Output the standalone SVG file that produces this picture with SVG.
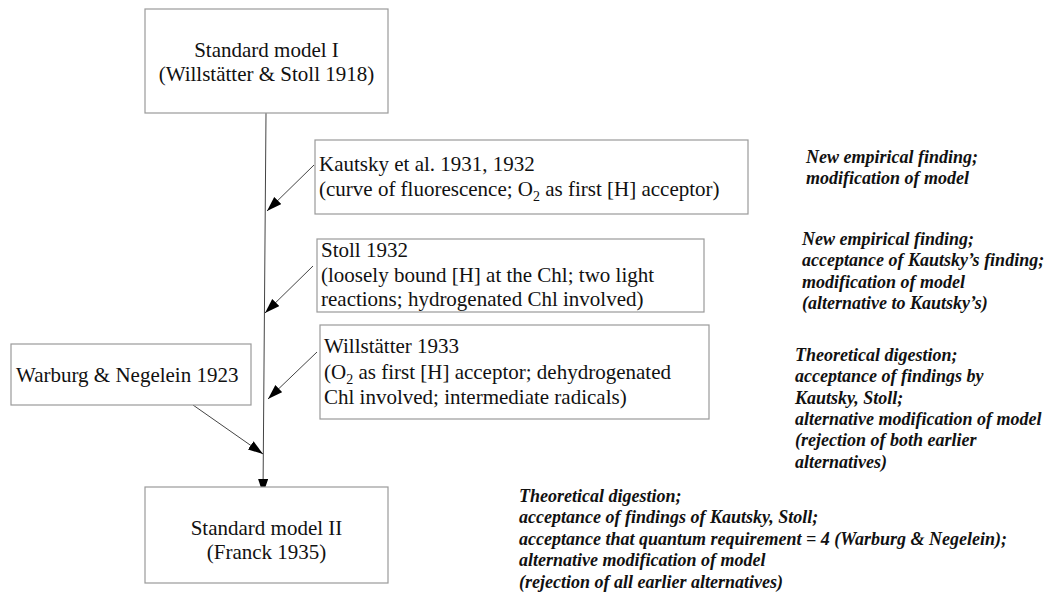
<svg xmlns="http://www.w3.org/2000/svg" width="1045" height="595" viewBox="0 0 1045 595">
  <defs>
    <style>
      .box { fill: #ffffff; stroke: #9a9a9a; stroke-width: 1.2; }
      .label { font-family: "Liberation Serif", Tinos, "Times New Roman", Times, "DejaVu Serif", serif; font-size: 21px; fill: #111111; }
      .mid { text-anchor: middle; }
      .note { font-family: "Liberation Serif", Tinos, "Times New Roman", Times, "DejaVu Serif", serif; font-size: 18px; font-weight: bold; font-style: italic; fill: #111111; }
      .edge { stroke: #444444; stroke-width: 1; fill: none; marker-end: url(#arrow); }
      .sub { font-size: 14px; }
    </style>
    <marker id="arrow" markerUnits="userSpaceOnUse" markerWidth="16" markerHeight="11" refX="15" refY="5" orient="auto">
      <path d="M0,0 L15,5 L0,10 Z" fill="#000000"/>
    </marker>
  </defs>

  <!-- connectors, drawn first so the node boxes sit on top -->
  <g id="connectors">
    <line class="edge" x1="266" y1="113" x2="263" y2="494"/>
    <line class="edge" x1="314" y1="165" x2="267" y2="211"/>
    <line class="edge" x1="313" y1="266" x2="265" y2="313"/>
    <line class="edge" x1="317" y1="352" x2="268" y2="399"/>
    <line class="edge" x1="193" y1="405" x2="263" y2="454"/>
  </g>

  <g id="model-1">
    <rect class="box" x="145" y="9" width="243" height="104"/>
    <text class="label mid" x="266.5" y="57">Standard model I</text>
    <text class="label mid" x="266.5" y="81">(Willstätter &amp; Stoll 1918)</text>
  </g>

  <g id="kautsky">
    <rect class="box" x="315" y="140" width="433" height="74"/>
    <text class="label" x="319" y="171">Kautsky et al. 1931, 1932</text>
    <text class="label" x="319" y="196">(curve of fluorescence; O<tspan class="sub" dy="5">2</tspan><tspan dy="-5"> as first [H] acceptor)</tspan></text>
  </g>

  <g id="stoll">
    <rect class="box" x="317" y="239" width="387" height="73"/>
    <text class="label" x="321" y="257">Stoll 1932</text>
    <text class="label" x="321" y="282">(loosely bound [H] at the Chl; two light</text>
    <text class="label" x="321" y="306">reactions; hydrogenated Chl involved)</text>
  </g>

  <g id="willstaetter">
    <rect class="box" x="320" y="325" width="389" height="94"/>
    <text class="label" x="324" y="353">Willstätter 1933</text>
    <text class="label" x="324" y="379">(O<tspan class="sub" dy="5">2</tspan><tspan dy="-5"> as first [H] acceptor; dehydrogenated</tspan></text>
    <text class="label" x="324" y="404">Chl involved; intermediate radicals)</text>
  </g>

  <g id="warburg">
    <rect class="box" x="11" y="344" width="240" height="61"/>
    <text class="label" x="16" y="382">Warburg &amp; Negelein 1923</text>
  </g>

  <g id="model-2">
    <rect class="box" x="145" y="487" width="243" height="96"/>
    <text class="label mid" x="266.5" y="535">Standard model II</text>
    <text class="label mid" x="266.5" y="559">(Franck 1935)</text>
  </g>

  <!-- commentary beside each step -->
  <g id="note-kautsky">
    <text class="note" x="806" y="163">New empirical finding;</text>
    <text class="note" x="806" y="184">modification of model</text>
  </g>

  <g id="note-stoll">
    <text class="note" x="802" y="245">New empirical finding;</text>
    <text class="note" x="802" y="266">acceptance of Kautsky’s finding;</text>
    <text class="note" x="802" y="288">modification of model</text>
    <text class="note" x="802" y="309">(alternative to Kautsky’s)</text>
  </g>

  <g id="note-willstaetter">
    <text class="note" x="795" y="361">Theoretical digestion;</text>
    <text class="note" x="795" y="382">acceptance of findings by</text>
    <text class="note" x="795" y="404">Kautsky, Stoll;</text>
    <text class="note" x="795" y="425">alternative modification of model</text>
    <text class="note" x="795" y="446">(rejection of both earlier</text>
    <text class="note" x="795" y="468">alternatives)</text>
  </g>

  <g id="note-franck">
    <text class="note" x="519" y="502">Theoretical digestion;</text>
    <text class="note" x="519" y="523">acceptance of findings of Kautsky, Stoll;</text>
    <text class="note" x="519" y="545">acceptance that quantum requirement = 4 (Warburg &amp; Negelein);</text>
    <text class="note" x="519" y="566">alternative modification of model</text>
    <text class="note" x="519" y="588">(rejection of all earlier alternatives)</text>
  </g>
</svg>
